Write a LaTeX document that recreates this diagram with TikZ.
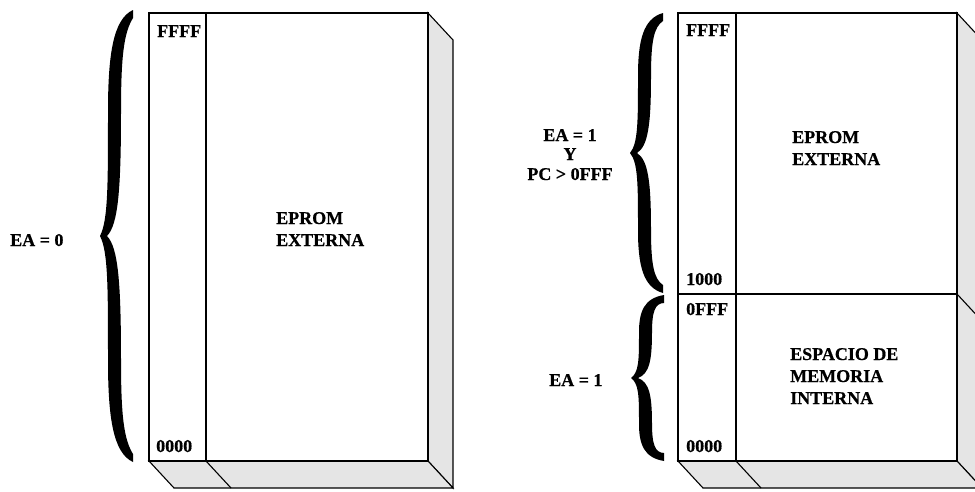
\documentclass[tikz,border=0pt]{standalone}
\usepackage{fontspec}
\setmainfont[BoldFeatures={FakeBold=0.6}]{Liberation Serif}
\newcommand\curlybrace[3]{% tip x, mid y, half height
  \fill[black] ({#1+33},{#2-#3})
    .. controls ({#1+13},{#2-#3+0.04*#3}) and ({#1+8},{#2-#3+0.2*#3}) .. ({#1+8},{#2-0.55*#3})
    .. controls ({#1+8},{#2-0.22*#3}) and ({#1+8},{#2-0.07*#3}) .. ({#1},{#2})
    .. controls ({#1+8},{#2+0.07*#3}) and ({#1+8},{#2+0.22*#3}) .. ({#1+8},{#2+0.55*#3})
    .. controls ({#1+8},{#2+#3-0.2*#3}) and ({#1+13},{#2+#3-0.04*#3}) .. ({#1+33},{#2+#3})
    -- ({#1+33},{#2+#3-8})
    .. controls ({#1+24},{#2+#3-0.1*#3}) and ({#1+21},{#2+#3-0.2*#3}) .. ({#1+21},{#2+0.55*#3})
    .. controls ({#1+21},{#2+0.2*#3}) and ({#1+18},{#2+0.05*#3}) .. ({#1+7},{#2})
    .. controls ({#1+18},{#2-0.05*#3}) and ({#1+21},{#2-0.2*#3}) .. ({#1+21},{#2-0.55*#3})
    .. controls ({#1+21},{#2-#3+0.2*#3}) and ({#1+24},{#2-#3+0.1*#3}) .. ({#1+33},{#2-#3+8})
    -- cycle;}
\begin{document}
\begin{tikzpicture}[x=1pt,y=-1pt,
  edge/.style={line width=1.1pt, line join=miter},
  face/.style={edge, fill=black!10},
  lbl/.style={font=\fontsize{18}{22}\selectfont\bfseries, inner sep=0pt, anchor=base west},
  clbl/.style={font=\fontsize{18}{22}\selectfont\bfseries, inner sep=0pt, anchor=base}]
\useasboundingbox (0,0) rectangle (975,491);
\clip (0,0) rectangle (975,491);
% ---------- left memory block ----------
\coordinate (L1) at (149,13);  \coordinate (L2) at (428,13);
\coordinate (L3) at (428,461); \coordinate (L4) at (149,461);
\coordinate (Ld1) at (206,13); \coordinate (Ld2) at (206,461);
\draw[face] (L2) -- ++(25,27) -- ++(0,448) -- (L3) -- cycle;
\draw[face] (L4) -- (L3) -- ++(25,27) -- ++(-279,0) -- cycle;
\draw[edge] (Ld2) -- ++(25,27);
\draw[edge, fill=white] (L1) rectangle (L3);
\draw[edge] (Ld1) -- (Ld2);
\node[lbl] (lffff) at (157,37) {FFFF};
\node[lbl] (l0000) at (156,452) {0000};
\node[lbl] (lep1) at (276,224) {EPROM};
\node[lbl] (lep2) at (276,246) {EXTERNA};
% ---------- right memory block ----------
\coordinate (R1) at (678,13);  \coordinate (R2) at (957,13);
\coordinate (R3) at (957,461); \coordinate (R4) at (678,461);
\coordinate (Rd1) at (736,13); \coordinate (Rd2) at (736,461);
\coordinate (Rh1) at (678,294); \coordinate (Rh2) at (957,294);
\draw[face] (R2) -- ++(25,27) -- ++(0,448) -- (R3) -- cycle;
\draw[edge] (Rh2) -- ++(25,27);
\draw[face] (R4) -- (R3) -- ++(25,27) -- ++(-279,0) -- cycle;
\draw[edge] (Rd2) -- ++(25,27);
\draw[edge, fill=white] (R1) rectangle (R3);
\draw[edge] (Rd1) -- (Rd2);
\draw[edge] (Rh1) -- (Rh2);
\node[lbl] (rffff) at (686,36) {FFFF};
\node[lbl] (r1000) at (686,285) {1000};
\node[lbl] (r0fff) at (686,315) {0FFF};
\node[lbl] (r0000) at (686,452) {0000};
\node[lbl] (rep1) at (792,143) {EPROM};
\node[lbl] (rep2) at (792,165) {EXTERNA};
\node[lbl] (rin1) at (790,360) {ESPACIO DE};
\node[lbl] (rin2) at (790,382) {MEMORIA};
\node[lbl] (rin3) at (790,404) {INTERNA};
% ---------- braces ----------
\curlybrace{100}{236}{226}
\curlybrace{630}{153}{140}
\curlybrace{631}{378}{83}
% ---------- conditions ----------
\node[lbl] (ea0) at (10,246) {EA = 0};
\node[clbl] (ea1a) at (570,141) {EA = 1};
\node[clbl] (ya) at (570,160) {Y};
\node[clbl] (pca) at (570,180) {PC > 0FFF};
\node[lbl] (ea1b) at (549,386) {EA = 1};
\end{tikzpicture}
\end{document}
